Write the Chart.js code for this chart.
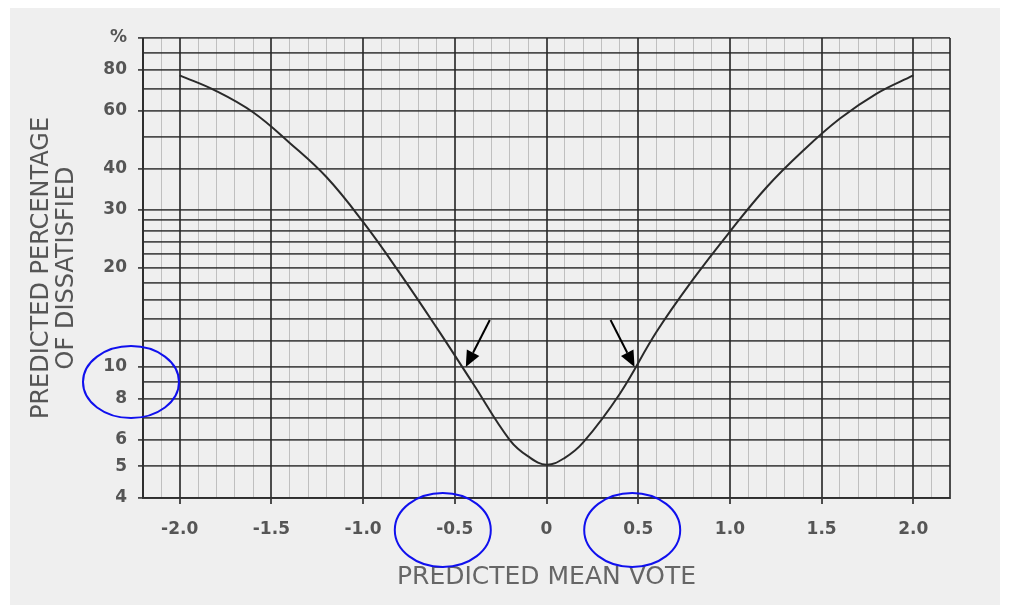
<!DOCTYPE html>
<html><head><meta charset="utf-8">
<script src="https://cdn.jsdelivr.net/npm/chart.js@4.4.1/dist/chart.umd.min.js"></script>
<style>html,body{margin:0;padding:0;background:#fff;overflow:hidden}</style>
</head><body>
<canvas id="c" width="1013" height="610"></canvas>
<script>
// Curve: predicted mean vote vs predicted percentage dissatisfied
const pmv = [-2.0, -1.8, -1.6, -1.4, -1.2, -1.0, -0.8, -0.6, -0.4, -0.2, -0.1, 0, 0.1, 0.2, 0.4, 0.6, 0.8, 1.0, 1.2, 1.4, 1.6, 1.8, 2.0];
const ppd = [77, 69, 59.5, 48, 37.8, 27.6, 19.3, 13.2, 8.9, 6.0, 5.35, 5.05, 5.3, 5.9, 8.3, 12.8, 18.5, 25.8, 35.2, 45.5, 56.9, 67.8, 77];

// Axis ticks
const yGridValues = [4, 5, 6, 7, 8, 9, 10, 12, 14, 16, 18, 20, 22, 24, 26, 28, 30, 40, 50, 60, 70, 80, 90, 100];
const yTickValues = [4, 5, 6, 8, 10, 20, 30, 40, 60, 80, 100];
const yTickLabels = ['4', '5', '6', '8', '10', '20', '30', '40', '60', '80', '%'];
const xTickValues = [-2, -1.5, -1, -0.5, 0, 0.5, 1, 1.5, 2];
const xTickLabels = ['-2.0', '-1.5', '-1.0', '-0.5', '0', '0.5', '1.0', '1.5', '2.0'];
const xMin = -2.2, xMax = 2.2, xMinorStep = 0.1;
const yMin = 4, yMax = 100;

const xAxisTitle = 'PREDICTED MEAN VOTE';
const yAxisTitle = ['PREDICTED PERCENTAGE', 'OF DISSATISFIED'];

// Annotations (in data values)
const circledYValue = 9;
const circledXValues = [-0.5, 0.5];
const arrowTargets = [{x: -0.44, y: 10, dir: 1}, {x: 0.48, y: 10, dir: -1}];

const DARK = 'rgba(40,40,40,0.82)';
const LIGHT = 'rgba(70,70,70,0.28)';
const CLEAR = 'rgba(0,0,0,0)';
const near = (a, b) => Math.abs(a - b) < 1e-6;
const xIdx = v => xTickValues.findIndex(t => near(t, v));
const xDark = v => xIdx(v) >= 0 || near(Math.abs(v), 2.2);

const bgPlugin = {
  id: 'bg',
  beforeDraw(chart) {
    const c = chart.ctx;
    c.save();
    c.fillStyle = '#ffffff';
    c.fillRect(0, 0, chart.width, chart.height);
    c.fillStyle = '#efefef';
    c.fillRect(10, 8, 990, 597);
    c.restore();
  }
};

const annoPlugin = {
  id: 'anno',
  afterDraw(chart) {
    const c = chart.ctx, xs = chart.scales.x, ys = chart.scales.y, area = chart.chartArea;
    c.save();
    c.strokeStyle = '#1010ee';
    c.lineWidth = 2;
    c.beginPath();
    c.ellipse(area.left - 12, ys.getPixelForValue(circledYValue), 48, 36, 0, 0, Math.PI * 2);
    c.stroke();
    const offs = [-12, -6];
    circledXValues.forEach((v, i) => {
      c.beginPath();
      c.ellipse(xs.getPixelForValue(v) + offs[i], area.bottom + 32, 48, 37, 0, 0, Math.PI * 2);
      c.stroke();
    });
    c.strokeStyle = '#000';
    c.fillStyle = '#000';
    arrowTargets.forEach(a => {
      const tx = xs.getPixelForValue(a.x), ty = ys.getPixelForValue(a.y);
      const sx = tx + 24 * a.dir, sy = ty - 47;
      const ang = Math.atan2(ty - sy, tx - sx);
      const hl = 16, hw = 7;
      const bx = tx - hl * Math.cos(ang), by = ty - hl * Math.sin(ang);
      c.lineWidth = 2;
      c.beginPath(); c.moveTo(sx, sy); c.lineTo(bx, by); c.stroke();
      c.beginPath();
      c.moveTo(tx, ty);
      c.lineTo(bx + hw * Math.sin(ang), by - hw * Math.cos(ang));
      c.lineTo(bx - hw * Math.sin(ang), by + hw * Math.cos(ang));
      c.closePath(); c.fill();
    });
    c.restore();
  }
};

const tickFont = {family: 'DejaVu Sans', size: 17, weight: 'bold'};

new Chart(document.getElementById('c'), {
  type: 'line',
  data: {
    datasets: [{
      data: pmv.map((x, i) => ({x: x, y: ppd[i]})),
      borderColor: '#2a2a2a',
      borderWidth: 2,
      pointRadius: 0,
      fill: false,
      tension: 0.4
    }]
  },
  options: {
    responsive: false,
    animation: false,
    devicePixelRatio: 1,
    layout: {padding: {left: 0, right: 63, top: 38, bottom: 0}},
    plugins: {legend: {display: false}, tooltip: {enabled: false}},
    scales: {
      x: {
        type: 'linear', min: xMin, max: xMax,
        afterFit: s => { s.height = 112; },
        ticks: {
          stepSize: xMinorStep, autoSkip: false, maxRotation: 0, minRotation: 0,
          padding: 15, color: '#555', font: tickFont,
          callback: v => { const i = xIdx(v); return i >= 0 ? xTickLabels[i] : ''; }
        },
        grid: {
          color: ctx => xDark(ctx.tick.value) ? DARK : LIGHT,
          lineWidth: ctx => xDark(ctx.tick.value) ? 2 : 1,
          tickLength: 6,
          tickColor: ctx => xIdx(ctx.tick.value) >= 0 ? DARK : CLEAR
        },
        border: {display: true, color: DARK, width: 2},
        title: {display: true, text: xAxisTitle, color: '#666', font: {family: 'DejaVu Sans', size: 25}, padding: {top: 0, bottom: 18}}
      },
      y: {
        type: 'logarithmic', min: yMin, max: yMax,
        afterBuildTicks: s => { s.ticks = yGridValues.map(v => ({value: v})); },
        afterFit: s => { s.width = 143; },
        ticks: {
          autoSkip: false, padding: 11, color: '#555', font: tickFont,
          callback: v => { const i = yTickValues.indexOf(v); return i >= 0 ? yTickLabels[i] : ''; }
        },
        grid: {
          color: DARK, lineWidth: 1.8, tickLength: 5,
          tickColor: ctx => yTickValues.includes(ctx.tick.value) ? DARK : CLEAR
        },
        border: {display: true, color: DARK, width: 2},
        title: {display: true, text: yAxisTitle, color: '#555', font: {family: 'DejaVu Sans', size: 24, lineHeight: 1.04}, padding: {top: 29, bottom: 0}}
      }
    }
  },
  plugins: [bgPlugin, annoPlugin]
});
</script>
</body></html>
